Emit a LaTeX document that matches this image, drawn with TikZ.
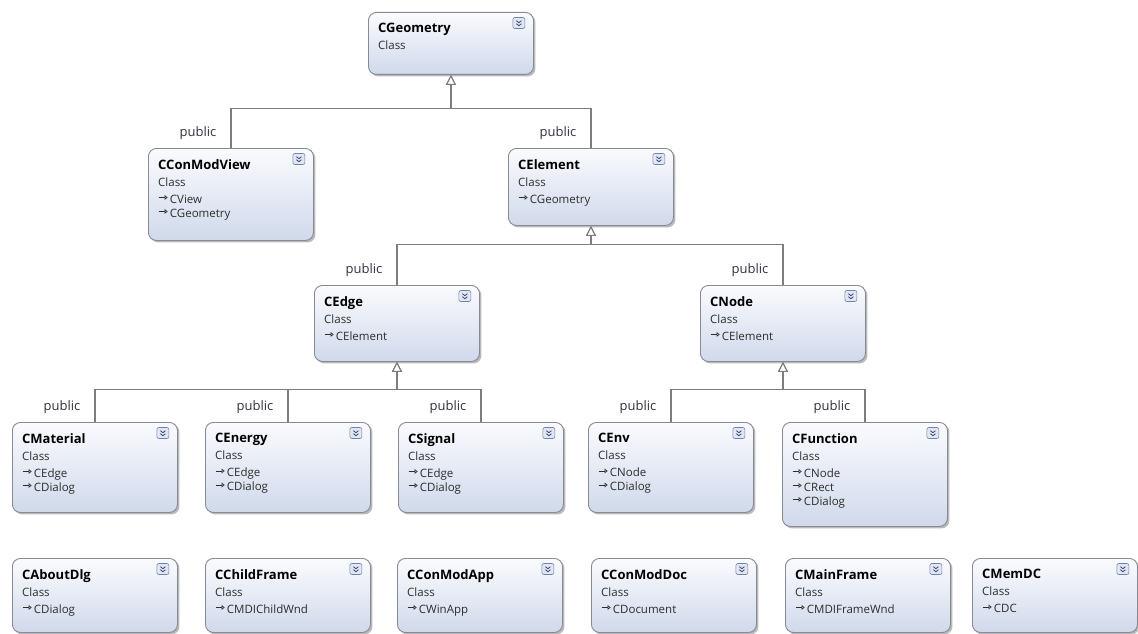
\documentclass[tikz,border=0pt]{standalone}
\usepackage{fontspec}
\setmainfont{Open Sans}
\usepackage{tikz}
\usetikzlibrary{arrows.meta}
\usetikzlibrary{shadows}
\usepackage{xcolor}

\definecolor{boxline}{RGB}{135,138,146}
\definecolor{boxtop}{RGB}{250,251,254}
\definecolor{boxbottom}{RGB}{208,217,235}
\definecolor{connector}{RGB}{125,125,125}
\definecolor{iconline}{RGB}{115,130,170}
\definecolor{iconfill}{RGB}{224,230,244}
\definecolor{icondark}{RGB}{50,65,110}
\definecolor{labeltext}{RGB}{55,45,60}
\definecolor{infotext}{RGB}{45,45,45}

\tikzset{
    classbox/.style = {draw = boxline, line width = 0.9pt, rounded corners = 8pt,
        anchor = north west, minimum width = 165pt, inner sep = 0pt,
        top color = boxtop, bottom color = boxbottom,
        drop shadow = {shadow xshift = 2pt, shadow yshift = -2pt, opacity = 0.45, fill = black!60}},
    classtext/.style = {anchor = north west, inner sep = 0pt, align = left,
        font = \fontsize{11.5}{14}\selectfont, text = infotext},
    expandicon/.style = {draw = iconline, fill = iconfill, rounded corners = 2pt,
        minimum width = 12pt, minimum height = 11pt, inner sep = 0pt, line width = 0.6pt},
    chevron/.style = {draw = icondark, line width = 0.8pt},
    inherit/.style = {draw = connector, line width = 1.1pt,
        -{Triangle[open, length = 10pt, width = 10pt, fill = white]}},
    publiclabel/.style = {anchor = base east, inner sep = 0pt, xshift = -14pt, yshift = 12pt,
        font = \fontsize{13}{15}\selectfont, text = labeltext}
}

% small hollow arrow in front of a base class
\newcommand{\baseref}[1]{\tikz[baseline = -0.3ex]\draw[line width = 0.6pt, -{Triangle[open, length = 3pt, width = 4.5pt]}] (0,0.33em) -- (0.8em,0.33em);\,#1}

% class box: name, x, y, height, title, base classes
\newcommand{\umlclass}[6]{%
    \node[classbox, minimum height = #4pt] (#1) at (#2,#3) {};
    \node[classtext] (#1-text) at ([xshift = 10pt, yshift = -11pt]#1.north west)
        {{\bfseries\fontsize{13}{14}\selectfont\color{black} #5}\\[3pt] Class\\[3pt] #6};
    \node[expandicon] (#1-icon) at ([xshift = -15pt, yshift = -11pt]#1.north east) {};
    \draw[chevron] ([xshift = -2.5pt, yshift = 2.3pt]#1-icon.center) -- ++(2.5pt,-2pt) -- ++(2.5pt,2pt);
    \draw[chevron] ([xshift = -2.5pt, yshift = -0.7pt]#1-icon.center) -- ++(2.5pt,-2pt) -- ++(2.5pt,2pt);
}

\begin{document}
\begin{tikzpicture}[x = 1pt, y = -1pt]
    \useasboundingbox (0,0) rectangle (1138,634);

    % inheritance tree
    \umlclass{cgeometry}{368}{12}{62}{CGeometry}{}
    \umlclass{cconmodview}{148}{148}{92}{CConModView}{\baseref{CView}\\ \baseref{CGeometry}}
    \umlclass{celement}{508}{148}{77}{CElement}{\baseref{CGeometry}}
    \umlclass{cedge}{314}{285}{76}{CEdge}{\baseref{CElement}}
    \umlclass{cnode}{700}{285}{76}{CNode}{\baseref{CElement}}
    \umlclass{cmaterial}{12}{422}{90}{CMaterial}{\baseref{CEdge}\\ \baseref{CDialog}}
    \umlclass{cenergy}{205}{422}{90}{CEnergy}{\baseref{CEdge}\\ \baseref{CDialog}}
    \umlclass{csignal}{398}{422}{90}{CSignal}{\baseref{CEdge}\\ \baseref{CDialog}}
    \umlclass{cenv}{588}{422}{90}{CEnv}{\baseref{CNode}\\ \baseref{CDialog}}
    \umlclass{cfunction}{782}{422}{104}{CFunction}{\baseref{CNode}\\ \baseref{CRect}\\ \baseref{CDialog}}

    % stand-alone classes
    \umlclass{caboutdlg}{12}{558}{74}{CAboutDlg}{\baseref{CDialog}}
    \umlclass{cchildframe}{205}{558}{74}{CChildFrame}{\baseref{CMDIChildWnd}}
    \umlclass{cconmodapp}{397}{558}{74}{CConModApp}{\baseref{CWinApp}}
    \umlclass{cconmoddoc}{591}{558}{74}{CConModDoc}{\baseref{CDocument}}
    \umlclass{cmainframe}{785}{558}{74}{CMainFrame}{\baseref{CMDIFrameWnd}}
    \umlclass{cmemdc}{972}{558}{74}{CMemDC}{\baseref{CDC}}

    % buses below the base classes
    \coordinate (cgeometry-bus) at ([yshift = -34pt]cgeometry.south);
    \coordinate (celement-bus) at ([yshift = -19pt]celement.south);
    \coordinate (cedge-bus) at ([yshift = -28pt]cedge.south);
    \coordinate (cnode-bus) at ([yshift = -28pt]cnode.south);

    \draw[inherit] (cconmodview.north) node[publiclabel] (cconmodview-pub) {public} |- (cgeometry-bus) -- (cgeometry.south);
    \draw[inherit] (celement.north) node[publiclabel] (celement-pub) {public} |- (cgeometry-bus) -- (cgeometry.south);

    \draw[inherit] (cedge.north) node[publiclabel] (cedge-pub) {public} |- (celement-bus) -- (celement.south);
    \draw[inherit] (cnode.north) node[publiclabel] (cnode-pub) {public} |- (celement-bus) -- (celement.south);

    \draw[inherit] (cmaterial.north) node[publiclabel] (cmaterial-pub) {public} |- (cedge-bus) -- (cedge.south);
    \draw[inherit] (cenergy.north) node[publiclabel] (cenergy-pub) {public} |- (cedge-bus) -- (cedge.south);
    \draw[inherit] (csignal.north) node[publiclabel] (csignal-pub) {public} |- (cedge-bus) -- (cedge.south);

    \draw[inherit] (cenv.north) node[publiclabel] (cenv-pub) {public} |- (cnode-bus) -- (cnode.south);
    \draw[inherit] (cfunction.north) node[publiclabel] (cfunction-pub) {public} |- (cnode-bus) -- (cnode.south);
\end{tikzpicture}
\end{document}
